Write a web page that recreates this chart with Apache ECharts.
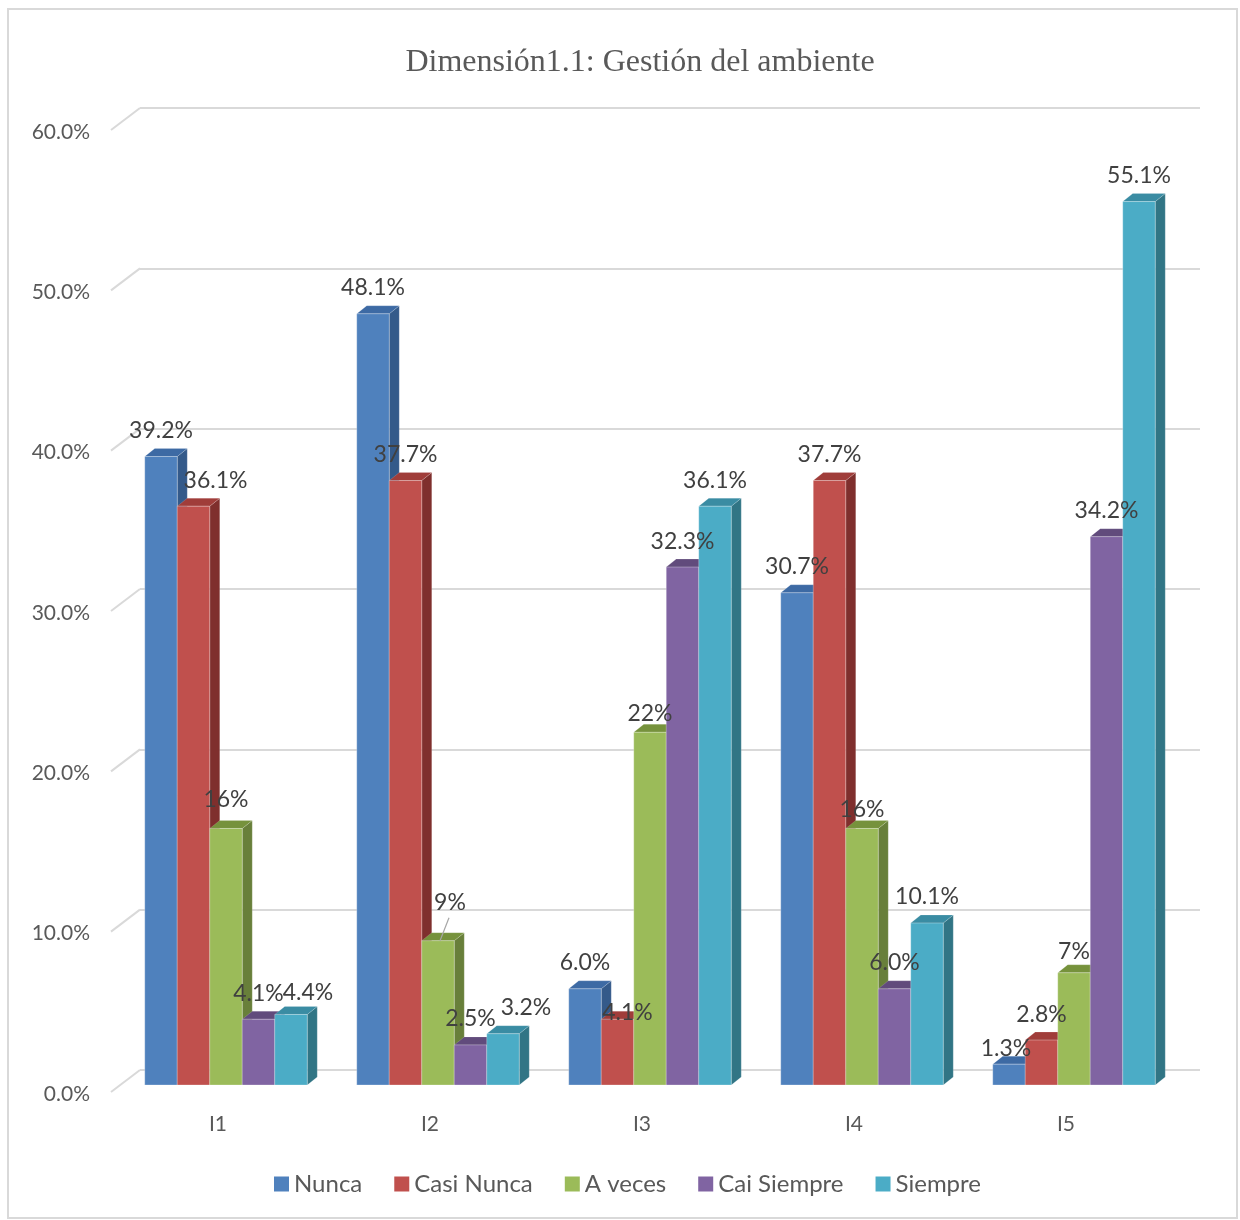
<!DOCTYPE html>
<html>
<head>
<meta charset="utf-8">
<script src="https://cdn.jsdelivr.net/npm/echarts@6/dist/echarts.min.js"></script>
<style>
  html, body { margin: 0; padding: 0; background: #ffffff; }
  #chart { width: 1240px; height: 1220px; }
</style>
</head>
<body>
<div id="chart"></div>
<script>
// ---- data ----
const categories = ['I1', 'I2', 'I3', 'I4', 'I5'];
const seriesNames = ['Nunca', 'Casi Nunca', 'A veces', 'Cai Siempre', 'Siempre'];
const nunca      = [39.2, 48.1, 6.0, 30.7, 1.3];
const casiNunca  = [36.1, 37.7, 4.1, 37.7, 2.8];
const aVeces     = [16, 9, 22, 16, 7];
const caiSiempre = [4.1, 2.5, 32.3, 6.0, 34.2];
const siempre    = [4.4, 3.2, 36.1, 10.1, 55.1];
const yTicks     = [0, 10, 20, 30, 40, 50, 60];

// ---- styling ----
const seriesValues = [nunca, casiNunca, aVeces, caiSiempre, siempre];
const labelDecimals = [1, 1, 0, 1, 1];
const faceColors = [
  { front: '#4f81bd', top: '#3d6aa4', side: '#345a8a' },
  { front: '#c0504d', top: '#a03d3a', side: '#7f2f2d' },
  { front: '#9bbb59', top: '#76923c', side: '#687f3a' },
  { front: '#8064a2', top: '#614b7c', side: '#5b4775' },
  { front: '#4bacc6', top: '#3a8ca3', side: '#317585' }
];
const BAR_FRAC = 0.1533;      // width of one bar as a share of the category band
const BAR_DX = 10, BAR_DY = 8; // bar depth
const FLOOR_DX = -29, FLOOR_DY = 22; // wall-to-front projection of the floor
const LABEL_GAP = 26;
// small label shifts (series index, category index) -> [dx, dy, leaderLine]
const labelShift = {
  '1,0': [22, 0], '4,0': [17, 4], '2,0': [0, -3],
  '2,1': [12, -12, true], '4,1': [23, 0],
  '1,2': [10, 19], '2,2': [0, 7],
  '2,3': [0, 7],
  '0,4': [-3, 10], '2,4': [0, 5]
};

const GRID_W = 1060, GRID_H = 962;

function barRenderer(sIdx) {
  return function (params, api) {
    const c = api.value(0);
    const v = api.value(1);
    const base = api.coord([c, 0]);
    const top = api.coord([c, v]);
    const band = api.size([1, 0])[0];
    const w = band * BAR_FRAC;
    const x0 = base[0] - 2.5 * w + sIdx * w;
    const yT = top[1], yB = base[1];
    const col = faceColors[sIdx];
    const children = [
      { type: 'polygon', shape: { points: [[x0 + w, yT], [x0 + w + BAR_DX, yT - BAR_DY], [x0 + w + BAR_DX, yB - BAR_DY], [x0 + w, yB]] },
        style: { fill: col.side, stroke: 'rgba(255,255,255,0.25)', lineWidth: 0.6 } },
      { type: 'polygon', shape: { points: [[x0, yT], [x0 + BAR_DX, yT - BAR_DY], [x0 + w + BAR_DX, yT - BAR_DY], [x0 + w, yT]] },
        style: { fill: col.top, stroke: 'rgba(255,255,255,0.25)', lineWidth: 0.6 } },
      { type: 'rect', shape: { x: x0, y: yT, width: w, height: yB - yT },
        style: { fill: col.front, stroke: 'rgba(255,255,255,0.35)', lineWidth: 0.8 } }
    ];
    const sh = labelShift[sIdx + ',' + c] || [0, 0, false];
    const lx = x0 + w / 2 + sh[0];
    const ly = yT - LABEL_GAP + sh[1];
    if (sh[2]) {
      children.push({ type: 'line', z2: 90,
        shape: { x1: lx - 1, y1: ly + 15, x2: x0 + w / 2 + 2, y2: yT },
        style: { stroke: '#a6a6a6', lineWidth: 1.2 } });
    }
    children.push({
      type: 'text', z2: 100, x: lx, y: ly,
      style: {
        text: v.toFixed(labelDecimals[sIdx]) + '%',
        fill: '#404040', font: '23px Lato',
        align: 'center', verticalAlign: 'middle'
      }
    });
    return { type: 'group', children: children };
  };
}

const barSeries = seriesNames.map(function (name, i) {
  return {
    type: 'custom', name: name,
    xAxisIndex: 2, yAxisIndex: 2,
    itemStyle: { color: faceColors[i].front },
    renderItem: barRenderer(i),
    encode: { x: 0, y: 1 },
    data: seriesValues[i].map(function (v, c) { return [c, v]; })
  };
});

// diagonal floor lines joining the wall gridlines to the value labels
const floorSeries = {
  type: 'custom', xAxisIndex: 0, yAxisIndex: 0, silent: true,
  encode: { y: 0 },
  renderItem: function (params, api) {
    const y = api.coord([0, api.value(0)])[1];
    const x = params.coordSys.x;
    return { type: 'line', shape: { x1: x, y1: y, x2: x + FLOOR_DX, y2: y + FLOOR_DY },
             style: { stroke: '#d9d9d9', lineWidth: 2 } };
  },
  data: yTicks.map(function (t) { return [t]; })
};

const chart = echarts.init(document.getElementById('chart'), null, { renderer: 'canvas' });
chart.setOption({
  animation: false,
  backgroundColor: '#ffffff',
  title: {
    text: 'Dimensión1.1: Gestión del ambiente',
    left: 635, top: 42, textAlign: 'center',
    textStyle: { fontFamily: 'Liberation Serif', fontSize: 32, fontWeight: 'normal', color: '#595959' }
  },
  graphic: [{
    type: 'rect', silent: true, z: -10,
    shape: { x: 8, y: 9, width: 1229, height: 1209 },
    style: { fill: 'none', stroke: '#d9d9d9', lineWidth: 2 }
  }],
  legend: {
    data: seriesNames, left: 269, top: 1167, icon: 'rect',
    itemWidth: 15, itemHeight: 15, itemGap: 32,
    textStyle: { fontFamily: 'Lato', fontSize: 24, color: '#595959' }
  },
  grid: [
    { left: 140, top: 108, width: GRID_W, height: GRID_H },   // back wall
    { left: 112, top: 132, width: GRID_W, height: GRID_H },   // front edge (labels)
    { left: 120, top: 123, width: GRID_W, height: GRID_H }    // bars
  ],
  xAxis: [
    { gridIndex: 0, type: 'category', data: categories, show: false },
    { gridIndex: 1, type: 'category', data: categories,
      axisLine: { show: false }, axisTick: { show: false },
      axisLabel: { margin: 20, fontFamily: 'Lato', fontSize: 21, color: '#595959' } },
    { gridIndex: 2, type: 'category', data: categories, show: false }
  ],
  yAxis: [
    { gridIndex: 0, type: 'value', min: 0, max: 60, interval: 10,
      axisLine: { show: false }, axisTick: { show: false }, axisLabel: { show: false },
      splitLine: { show: true, lineStyle: { color: '#d9d9d9', width: 2 } } },
    { gridIndex: 1, type: 'value', min: 0, max: 60, interval: 10,
      axisLine: { show: false }, axisTick: { show: false }, splitLine: { show: false },
      axisLabel: { margin: 22, fontFamily: 'Lato', fontSize: 21, color: '#595959',
        formatter: function (v) { return v.toFixed(1) + '%'; } } },
    { gridIndex: 2, type: 'value', min: 0, max: 60, interval: 10, show: false,
      splitLine: { show: false } }
  ],
  series: [floorSeries].concat(barSeries)
});
</script>
</body>
</html>
